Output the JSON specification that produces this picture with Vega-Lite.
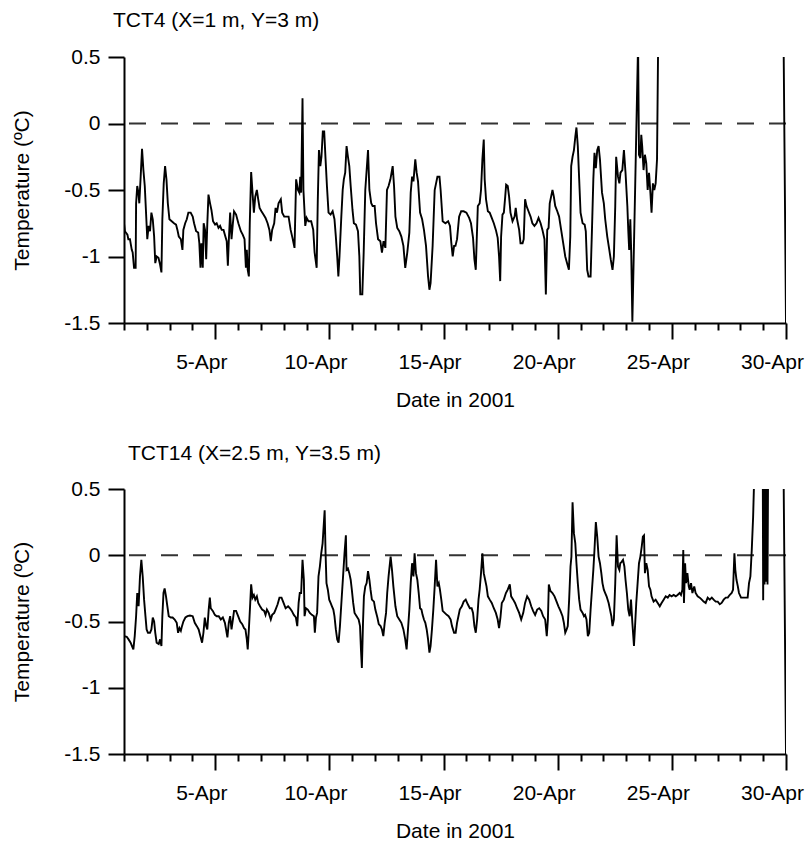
{
  "$schema": "https://vega.github.io/schema/vega-lite/v6.json",
  "background": "white",
  "padding": {"left": 11, "top": 10, "right": 5, "bottom": 0},
  "spacing": 33,
  "config": {
    "font": "Liberation Sans",
    "view": {"stroke": null},
    "axis": {
      "grid": false,
      "domainColor": "black",
      "domainWidth": 2,
      "tickColor": "black",
      "tickWidth": 2,
      "labelColor": "black",
      "titleColor": "black",
      "labelFont": "Liberation Sans",
      "titleFont": "Liberation Sans",
      "labelFontSize": 21,
      "titleFontSize": 21,
      "titleFontWeight": "normal"
    },
    "title": {"font": "Liberation Sans", "fontSize": 21, "fontWeight": "normal", "color": "black", "anchor": "start", "frame": "group", "baseline": "bottom"}
  },
  "datasets": {
    "tct4": [
      {"day":1.00,"temp":-0.75},{"day":1.04,"temp":-0.81},{"day":1.15,"temp":-0.835},{"day":1.19,"temp":-0.87},{"day":1.26,"temp":-0.87},{"day":1.34,"temp":-0.95},{"day":1.38,"temp":-0.97},{"day":1.44,"temp":-1.085},{"day":1.51,"temp":-1.085},{"day":1.53,"temp":-0.6},{"day":1.58,"temp":-0.47},{"day":1.63,"temp":-0.52},{"day":1.67,"temp":-0.6},{"day":1.73,"temp":-0.4},{"day":1.79,"temp":-0.19},{"day":1.85,"temp":-0.35},{"day":1.91,"temp":-0.47},{"day":1.96,"temp":-0.65},{"day":2.02,"temp":-0.87},{"day":2.08,"temp":-0.77},{"day":2.14,"temp":-0.81},{"day":2.20,"temp":-0.67},{"day":2.26,"temp":-0.72},{"day":2.32,"temp":-0.85},{"day":2.37,"temp":-1.05},{"day":2.43,"temp":-1.0},{"day":2.51,"temp":-1.01},{"day":2.58,"temp":-1.06},{"day":2.64,"temp":-1.12},{"day":2.68,"temp":-0.72},{"day":2.74,"temp":-0.45},{"day":2.80,"temp":-0.32},{"day":2.86,"temp":-0.42},{"day":2.92,"temp":-0.6},{"day":2.99,"temp":-0.72},{"day":3.09,"temp":-0.735},{"day":3.19,"temp":-0.75},{"day":3.28,"temp":-0.76},{"day":3.34,"temp":-0.8},{"day":3.40,"temp":-0.85},{"day":3.49,"temp":-0.87},{"day":3.56,"temp":-0.95},{"day":3.60,"temp":-0.8},{"day":3.68,"temp":-0.75},{"day":3.75,"temp":-0.72},{"day":3.82,"temp":-0.67},{"day":3.92,"temp":-0.67},{"day":4.01,"temp":-0.7},{"day":4.07,"temp":-0.75},{"day":4.16,"temp":-0.81},{"day":4.25,"temp":-0.82},{"day":4.30,"temp":-0.9},{"day":4.35,"temp":-1.085},{"day":4.39,"temp":-0.9},{"day":4.45,"temp":-1.085},{"day":4.49,"temp":-0.75},{"day":4.55,"temp":-0.8},{"day":4.60,"temp":-1.02},{"day":4.65,"temp":-0.75},{"day":4.70,"temp":-0.535},{"day":4.77,"temp":-0.6},{"day":4.83,"temp":-0.65},{"day":4.90,"temp":-0.735},{"day":4.99,"temp":-0.76},{"day":5.06,"temp":-0.75},{"day":5.14,"temp":-0.785},{"day":5.21,"temp":-0.77},{"day":5.28,"temp":-0.8},{"day":5.36,"temp":-0.8},{"day":5.44,"temp":-0.85},{"day":5.50,"temp":-0.885},{"day":5.55,"temp":-1.07},{"day":5.59,"temp":-0.885},{"day":5.65,"temp":-0.67},{"day":5.71,"temp":-0.87},{"day":5.77,"temp":-0.75},{"day":5.82,"temp":-0.66},{"day":5.91,"temp":-0.685},{"day":6.01,"temp":-0.75},{"day":6.12,"temp":-0.81},{"day":6.20,"temp":-0.835},{"day":6.28,"temp":-0.87},{"day":6.34,"temp":-1.085},{"day":6.38,"temp":-0.95},{"day":6.42,"temp":-1.1},{"day":6.47,"temp":-1.15},{"day":6.51,"temp":-0.75},{"day":6.57,"temp":-0.365},{"day":6.63,"temp":-0.52},{"day":6.69,"temp":-0.67},{"day":6.75,"temp":-0.55},{"day":6.82,"temp":-0.5},{"day":6.88,"temp":-0.57},{"day":6.94,"temp":-0.635},{"day":7.02,"temp":-0.66},{"day":7.11,"temp":-0.685},{"day":7.20,"temp":-0.71},{"day":7.29,"temp":-0.75},{"day":7.37,"temp":-0.8},{"day":7.43,"temp":-0.885},{"day":7.49,"temp":-0.8},{"day":7.58,"temp":-0.75},{"day":7.64,"temp":-0.635},{"day":7.70,"temp":-0.67},{"day":7.77,"temp":-0.6},{"day":7.87,"temp":-0.57},{"day":7.93,"temp":-0.67},{"day":8.02,"temp":-0.7},{"day":8.13,"temp":-0.7},
      {"day":8.21,"temp":-0.7},{"day":8.30,"temp":-0.8},{"day":8.38,"temp":-0.86},{"day":8.47,"temp":-0.935},{"day":8.54,"temp":-0.42},{"day":8.62,"temp":-0.5},{"day":8.68,"temp":-0.52},{"day":8.72,"temp":-0.4},{"day":8.76,"temp":-0.52},{"day":8.82,"temp":0.19},{"day":8.86,"temp":-0.5},{"day":8.94,"temp":-0.77},{"day":9.00,"temp":-0.71},{"day":9.08,"temp":-0.735},{"day":9.20,"temp":-0.735},{"day":9.29,"temp":-0.8},{"day":9.35,"temp":-0.97},{"day":9.44,"temp":-1.085},{"day":9.49,"temp":-0.57},{"day":9.54,"temp":-0.2},{"day":9.60,"temp":-0.32},{"day":9.65,"temp":-0.25},{"day":9.71,"temp":-0.06},{"day":9.77,"temp":-0.06},{"day":9.83,"temp":-0.27},{"day":9.89,"temp":-0.47},{"day":9.96,"temp":-0.67},{"day":10.05,"temp":-0.685},{"day":10.14,"temp":-0.66},{"day":10.22,"temp":-0.72},{"day":10.28,"temp":-0.85},{"day":10.34,"temp":-1.0},{"day":10.39,"temp":-1.15},{"day":10.44,"temp":-1.0},{"day":10.52,"temp":-0.7},{"day":10.58,"temp":-0.5},{"day":10.63,"temp":-0.42},{"day":10.69,"temp":-0.37},{"day":10.75,"temp":-0.17},{"day":10.81,"temp":-0.25},{"day":10.87,"temp":-0.32},{"day":10.93,"temp":-0.47},{"day":11.01,"temp":-0.65},{"day":11.07,"temp":-0.75},{"day":11.16,"temp":-0.76},{"day":11.25,"temp":-0.81},{"day":11.31,"temp":-1.0},{"day":11.35,"temp":-1.285},{"day":11.44,"temp":-1.285},{"day":11.50,"temp":-0.97},{"day":11.57,"temp":-0.5},{"day":11.69,"temp":-0.2},{"day":11.75,"temp":-0.5},{"day":11.83,"temp":-0.6},{"day":11.89,"temp":-0.62},{"day":11.98,"temp":-0.62},{"day":12.04,"temp":-0.75},{"day":12.13,"temp":-0.87},{"day":12.23,"temp":-0.885},{"day":12.30,"temp":-0.97},{"day":12.37,"temp":-0.885},{"day":12.45,"temp":-0.935},{"day":12.52,"temp":-0.5},{"day":12.59,"temp":-0.47},{"day":12.67,"temp":-0.42},{"day":12.77,"temp":-0.32},{"day":12.83,"temp":-0.47},{"day":12.89,"temp":-0.7},{"day":12.97,"temp":-0.785},{"day":13.06,"temp":-0.81},{"day":13.15,"temp":-0.85},{"day":13.24,"temp":-0.92},{"day":13.32,"temp":-1.085},{"day":13.41,"temp":-0.97},{"day":13.50,"temp":-0.82},{"day":13.56,"temp":-0.52},{"day":13.62,"temp":-0.4},{"day":13.68,"temp":-0.435},{"day":13.76,"temp":-0.27},{"day":13.82,"temp":-0.37},{"day":13.88,"temp":-0.435},{"day":13.97,"temp":-0.67},{"day":14.06,"temp":-0.72},{"day":14.14,"temp":-0.8},{"day":14.23,"temp":-0.92},{"day":14.32,"temp":-1.15},{"day":14.38,"temp":-1.25},{"day":14.43,"temp":-1.2},{"day":14.52,"temp":-0.92},{"day":14.61,"temp":-0.5},{"day":14.67,"temp":-0.45},{"day":14.73,"temp":-0.4},{"day":14.82,"temp":-0.4},{"day":14.87,"temp":-0.5},{"day":14.96,"temp":-0.735},{"day":15.08,"temp":-0.75},{"day":15.20,"temp":-0.735},{"day":15.28,"temp":-0.77},{"day":15.34,"temp":-0.9},{"day":15.40,"temp":-1.0},{"day":15.46,"temp":-0.92},
      {"day":15.52,"temp":-0.92},{"day":15.59,"temp":-0.87},{"day":15.68,"temp":-0.7},{"day":15.77,"temp":-0.66},{"day":15.88,"temp":-0.66},{"day":16.00,"temp":-0.67},{"day":16.12,"temp":-0.71},{"day":16.20,"temp":-0.75},{"day":16.29,"temp":-0.86},{"day":16.35,"temp":-1.02},{"day":16.41,"temp":-1.1},{"day":16.45,"temp":-0.885},{"day":16.50,"temp":-0.62},{"day":16.58,"temp":-0.6},{"day":16.64,"temp":-0.5},{"day":16.70,"temp":-0.27},{"day":16.76,"temp":-0.12},{"day":16.80,"temp":-0.42},{"day":16.86,"temp":-0.57},{"day":16.94,"temp":-0.66},{"day":17.02,"temp":-0.67},{"day":17.11,"temp":-0.71},{"day":17.20,"temp":-0.75},{"day":17.29,"temp":-0.8},{"day":17.37,"temp":-0.86},{"day":17.43,"temp":-1.0},{"day":17.48,"temp":-1.185},{"day":17.52,"temp":-0.85},{"day":17.58,"temp":-0.685},{"day":17.64,"temp":-0.67},{"day":17.70,"temp":-0.55},{"day":17.74,"temp":-0.46},{"day":17.81,"temp":-0.47},{"day":17.87,"temp":-0.55},{"day":17.93,"temp":-0.67},{"day":18.02,"temp":-0.735},{"day":18.11,"temp":-0.7},{"day":18.16,"temp":-0.635},{"day":18.22,"temp":-0.72},{"day":18.31,"temp":-0.8},{"day":18.37,"temp":-0.9},{"day":18.46,"temp":-0.9},{"day":18.51,"temp":-0.87},{"day":18.57,"temp":-0.57},{"day":18.63,"temp":-0.62},{"day":18.72,"temp":-0.66},{"day":18.81,"temp":-0.7},{"day":18.89,"temp":-0.75},{"day":18.98,"temp":-0.77},{"day":19.07,"temp":-0.75},{"day":19.16,"temp":-0.71},{"day":19.25,"temp":-0.75},{"day":19.33,"temp":-0.8},{"day":19.42,"temp":-0.87},{"day":19.48,"temp":-1.285},{"day":19.54,"temp":-0.8},{"day":19.60,"temp":-0.785},{"day":19.65,"temp":-0.6},{"day":19.71,"temp":-0.55},{"day":19.77,"temp":-0.5},{"day":19.83,"temp":-0.55},{"day":19.89,"temp":-0.62},{"day":19.98,"temp":-0.66},{"day":20.06,"temp":-0.7},{"day":20.15,"temp":-0.8},{"day":20.24,"temp":-0.9},{"day":20.33,"temp":-1.0},{"day":20.41,"temp":-1.05},{"day":20.49,"temp":-1.1},{"day":20.55,"temp":-0.85},{"day":20.59,"temp":-0.32},{"day":20.65,"temp":-0.25},{"day":20.71,"temp":-0.2},{"day":20.77,"temp":-0.1},{"day":20.82,"temp":-0.03},{"day":20.88,"temp":-0.17},{"day":20.94,"temp":-0.42},{"day":21.00,"temp":-0.67},{"day":21.09,"temp":-0.75},{"day":21.18,"temp":-0.76},{"day":21.23,"temp":-0.81},{"day":21.29,"temp":-1.1},{"day":21.35,"temp":-1.15},{"day":21.44,"temp":-1.15},{"day":21.50,"temp":-0.8},{"day":21.56,"temp":-0.42},{"day":21.61,"temp":-0.22},{"day":21.67,"temp":-0.335},{"day":21.73,"temp":-0.2},{"day":21.79,"temp":-0.17},{"day":21.85,"temp":-0.27},{"day":21.94,"temp":-0.52},{"day":22.02,"temp":-0.6},{"day":22.08,"temp":-0.72},{"day":22.17,"temp":-0.85},{"day":22.26,"temp":-0.95},{"day":22.32,"temp":-1.02},{"day":22.40,"temp":-1.1},{"day":22.46,"temp":-1.0},{"day":22.52,"temp":-0.62},{"day":22.56,"temp":-0.25},{"day":22.64,"temp":-0.4},{"day":22.70,"temp":-0.45},
      {"day":22.75,"temp":-0.37},{"day":22.83,"temp":-0.35},{"day":22.90,"temp":-0.2},{"day":22.97,"temp":-0.37},{"day":23.05,"temp":-0.62},{"day":23.09,"temp":-0.8},{"day":23.13,"temp":-0.95},{"day":23.18,"temp":-0.72},{"day":23.22,"temp":-0.97},{"day":23.27,"temp":-1.49},{"day":23.39,"temp":-0.5},{"day":23.47,"temp":0.18},{"day":23.52,"temp":0.6},{"day":23.56,"temp":-0.235},{"day":23.62,"temp":-0.26},{"day":23.66,"temp":-0.085},{"day":23.70,"temp":-0.17},{"day":23.76,"temp":-0.35},{"day":23.82,"temp":-0.235},{"day":23.88,"temp":-0.3},{"day":23.94,"temp":-0.5},{"day":24.00,"temp":-0.37},{"day":24.06,"temp":-0.52},{"day":24.11,"temp":-0.67},{"day":24.17,"temp":-0.45},{"day":24.23,"temp":-0.5},{"day":24.29,"temp":-0.45},{"day":24.35,"temp":-0.27},{"day":24.41,"temp":0.8},{"day":29.88,"temp":0.8},{"day":29.9,"temp":0.5},{"day":30.0,"temp":-1.5}
    ],
    "tct14": [
      {"day":1.00,"temp":-0.61},{"day":1.12,"temp":-0.615},{"day":1.20,"temp":-0.635},{"day":1.29,"temp":-0.66},{"day":1.35,"temp":-0.685},{"day":1.41,"temp":-0.71},{"day":1.47,"temp":-0.61},{"day":1.53,"temp":-0.46},{"day":1.58,"temp":-0.285},{"day":1.64,"temp":-0.385},{"day":1.70,"temp":-0.16},{"day":1.76,"temp":-0.035},{"day":1.82,"temp":-0.16},{"day":1.88,"temp":-0.335},{"day":1.94,"temp":-0.46},{"day":1.99,"temp":-0.56},{"day":2.05,"temp":-0.585},{"day":2.14,"temp":-0.585},{"day":2.20,"temp":-0.56},{"day":2.26,"temp":-0.47},{"day":2.32,"temp":-0.5},{"day":2.37,"temp":-0.585},{"day":2.43,"temp":-0.66},{"day":2.52,"temp":-0.67},{"day":2.58,"temp":-0.635},{"day":2.64,"temp":-0.685},{"day":2.68,"temp":-0.46},{"day":2.73,"temp":-0.285},{"day":2.78,"temp":-0.25},{"day":2.84,"temp":-0.31},{"day":2.90,"temp":-0.385},{"day":2.96,"temp":-0.46},{"day":3.05,"temp":-0.47},{"day":3.13,"temp":-0.47},{"day":3.22,"temp":-0.485},{"day":3.31,"temp":-0.51},{"day":3.37,"temp":-0.585},{"day":3.43,"temp":-0.55},{"day":3.49,"temp":-0.57},{"day":3.54,"temp":-0.535},{"day":3.60,"temp":-0.5},{"day":3.69,"temp":-0.47},{"day":3.78,"temp":-0.46},{"day":3.89,"temp":-0.455},{"day":4.01,"temp":-0.46},{"day":4.10,"temp":-0.51},{"day":4.19,"temp":-0.535},{"day":4.27,"temp":-0.56},{"day":4.33,"temp":-0.6},{"day":4.42,"temp":-0.66},{"day":4.48,"temp":-0.585},{"day":4.54,"temp":-0.47},{"day":4.60,"temp":-0.535},{"day":4.65,"temp":-0.56},{"day":4.71,"temp":-0.41},{"day":4.76,"temp":-0.32},{"day":4.80,"temp":-0.4},{"day":4.89,"temp":-0.42},{"day":4.98,"temp":-0.45},{"day":5.06,"temp":-0.46},{"day":5.15,"temp":-0.46},{"day":5.24,"temp":-0.485},{"day":5.33,"temp":-0.47},{"day":5.42,"temp":-0.51},{"day":5.47,"temp":-0.56},{"day":5.53,"temp":-0.62},{"day":5.59,"temp":-0.51},{"day":5.65,"temp":-0.46},{"day":5.71,"temp":-0.56},{"day":5.77,"temp":-0.485},{"day":5.82,"temp":-0.42},{"day":5.91,"temp":-0.42},{"day":6.00,"temp":-0.46},{"day":6.09,"temp":-0.5},{"day":6.18,"temp":-0.52},{"day":6.26,"temp":-0.55},{"day":6.32,"temp":-0.56},{"day":6.38,"temp":-0.635},{"day":6.42,"temp":-0.71},{"day":6.47,"temp":-0.56},{"day":6.53,"temp":-0.36},{"day":6.57,"temp":-0.22},{"day":6.63,"temp":-0.32},{"day":6.69,"temp":-0.3},{"day":6.75,"temp":-0.335},{"day":6.82,"temp":-0.31},{"day":6.88,"temp":-0.36},{"day":6.96,"temp":-0.385},{"day":7.05,"temp":-0.41},{"day":7.14,"temp":-0.42},{"day":7.20,"temp":-0.45},{"day":7.26,"temp":-0.41},{"day":7.34,"temp":-0.435},{"day":7.43,"temp":-0.485},{"day":7.49,"temp":-0.45},{"day":7.58,"temp":-0.435},{"day":7.64,"temp":-0.41},{"day":7.73,"temp":-0.37},{"day":7.81,"temp":-0.32},{"day":7.90,"temp":-0.32},{"day":7.99,"temp":-0.36},{"day":8.08,"temp":-0.4},{"day":8.19,"temp":-0.385},
      {"day":8.27,"temp":-0.4},{"day":8.35,"temp":-0.42},{"day":8.44,"temp":-0.45},{"day":8.53,"temp":-0.47},{"day":8.59,"temp":-0.535},{"day":8.65,"temp":-0.36},{"day":8.70,"temp":-0.285},{"day":8.76,"temp":-0.285},{"day":8.82,"temp":-0.035},{"day":8.88,"temp":-0.185},{"day":8.91,"temp":-0.46},{"day":8.97,"temp":-0.4},{"day":9.05,"temp":-0.41},{"day":9.14,"temp":-0.435},{"day":9.23,"temp":-0.45},{"day":9.32,"temp":-0.46},{"day":9.36,"temp":-0.585},{"day":9.41,"temp":-0.47},{"day":9.46,"temp":-0.435},{"day":9.52,"temp":-0.16},{"day":9.58,"temp":-0.085},{"day":9.64,"temp":0.015},{"day":9.70,"temp":0.09},{"day":9.79,"temp":0.34},{"day":9.83,"temp":0.015},{"day":9.87,"temp":-0.21},{"day":9.93,"temp":-0.26},{"day":9.99,"temp":-0.335},{"day":10.05,"temp":-0.36},{"day":10.11,"temp":-0.385},{"day":10.17,"temp":-0.41},{"day":10.22,"temp":-0.46},{"day":10.28,"temp":-0.56},{"day":10.34,"temp":-0.635},{"day":10.40,"temp":-0.66},{"day":10.46,"temp":-0.535},{"day":10.55,"temp":-0.285},{"day":10.60,"temp":-0.15},{"day":10.66,"temp":0.015},{"day":10.72,"temp":0.15},{"day":10.75,"temp":-0.11},{"day":10.81,"temp":-0.1},{"day":10.87,"temp":-0.135},{"day":10.93,"temp":-0.185},{"day":10.98,"temp":-0.26},{"day":11.04,"temp":-0.36},{"day":11.10,"temp":-0.435},{"day":11.19,"temp":-0.46},{"day":11.28,"temp":-0.485},{"day":11.34,"temp":-0.535},{"day":11.38,"temp":-0.71},{"day":11.42,"temp":-0.85},{"day":11.47,"temp":-0.51},{"day":11.51,"temp":-0.31},{"day":11.57,"temp":-0.235},{"day":11.63,"temp":-0.21},{"day":11.69,"temp":-0.12},{"day":11.75,"temp":-0.185},{"day":11.80,"temp":-0.26},{"day":11.86,"temp":-0.335},{"day":11.95,"temp":-0.35},{"day":12.01,"temp":-0.41},{"day":12.10,"temp":-0.47},{"day":12.16,"temp":-0.52},{"day":12.24,"temp":-0.535},{"day":12.30,"temp":-0.56},{"day":12.36,"temp":-0.61},{"day":12.42,"temp":-0.51},{"day":12.48,"temp":-0.435},{"day":12.53,"temp":-0.285},{"day":12.59,"temp":-0.16},{"day":12.68,"temp":-0.01},{"day":12.74,"temp":-0.11},{"day":12.80,"temp":-0.235},{"day":12.89,"temp":-0.385},{"day":12.97,"temp":-0.46},{"day":13.06,"temp":-0.485},{"day":13.15,"temp":-0.51},{"day":13.24,"temp":-0.56},{"day":13.32,"temp":-0.635},{"day":13.38,"temp":-0.71},{"day":13.44,"temp":-0.56},{"day":13.50,"temp":-0.41},{"day":13.56,"temp":-0.21},{"day":13.62,"temp":-0.06},{"day":13.68,"temp":-0.16},{"day":13.73,"temp":0.015},{"day":13.79,"temp":-0.135},{"day":13.85,"temp":-0.185},{"day":13.91,"temp":-0.285},{"day":13.97,"temp":-0.4},{"day":14.03,"temp":-0.41},{"day":14.08,"temp":-0.45},{"day":14.14,"temp":-0.485},{"day":14.20,"temp":-0.51},{"day":14.26,"temp":-0.56},{"day":14.32,"temp":-0.635},{"day":14.38,"temp":-0.735},{"day":14.43,"temp":-0.685},{"day":14.49,"temp":-0.56},{"day":14.55,"temp":-0.41},{"day":14.61,"temp":-0.235},{"day":14.67,"temp":-0.035},{"day":14.73,"temp":-0.235},{"day":14.79,"temp":-0.21},{"day":14.84,"temp":-0.26},{"day":14.90,"temp":-0.335},{"day":14.96,"temp":-0.42},{"day":15.05,"temp":-0.435},{"day":15.14,"temp":-0.45},{"day":15.22,"temp":-0.46},{"day":15.31,"temp":-0.485},{"day":15.37,"temp":-0.535},{"day":15.46,"temp":-0.585},
      {"day":15.53,"temp":-0.585},{"day":15.59,"temp":-0.51},{"day":15.65,"temp":-0.46},{"day":15.71,"temp":-0.41},{"day":15.80,"temp":-0.385},{"day":15.88,"temp":-0.35},{"day":15.97,"temp":-0.335},{"day":16.06,"temp":-0.37},{"day":16.15,"temp":-0.4},{"day":16.23,"temp":-0.4},{"day":16.29,"temp":-0.435},{"day":16.35,"temp":-0.535},{"day":16.41,"temp":-0.585},{"day":16.47,"temp":-0.485},{"day":16.53,"temp":-0.335},{"day":16.58,"temp":-0.26},{"day":16.64,"temp":-0.135},{"day":16.70,"temp":0.015},{"day":16.76,"temp":-0.135},{"day":16.82,"temp":-0.185},{"day":16.88,"temp":-0.235},{"day":16.94,"temp":-0.31},{"day":17.02,"temp":-0.335},{"day":17.11,"temp":-0.36},{"day":17.20,"temp":-0.4},{"day":17.29,"temp":-0.435},{"day":17.37,"temp":-0.485},{"day":17.43,"temp":-0.55},{"day":17.49,"temp":-0.47},{"day":17.55,"temp":-0.36},{"day":17.64,"temp":-0.335},{"day":17.73,"temp":-0.285},{"day":17.81,"temp":-0.26},{"day":17.90,"temp":-0.22},{"day":17.96,"temp":-0.31},{"day":18.05,"temp":-0.335},{"day":18.13,"temp":-0.36},{"day":18.22,"temp":-0.4},{"day":18.31,"temp":-0.435},{"day":18.40,"temp":-0.485},{"day":18.49,"temp":-0.435},{"day":18.57,"temp":-0.36},{"day":18.66,"temp":-0.31},{"day":18.75,"temp":-0.335},{"day":18.84,"temp":-0.385},{"day":18.92,"temp":-0.42},{"day":19.01,"temp":-0.45},{"day":19.10,"temp":-0.41},{"day":19.19,"temp":-0.4},{"day":19.28,"temp":-0.42},{"day":19.36,"temp":-0.46},{"day":19.45,"temp":-0.485},{"day":19.52,"temp":-0.61},{"day":19.57,"temp":-0.485},{"day":19.61,"temp":-0.22},{"day":19.68,"temp":-0.27},{"day":19.77,"temp":-0.285},{"day":19.86,"temp":-0.31},{"day":19.95,"temp":-0.35},{"day":20.03,"temp":-0.385},{"day":20.12,"temp":-0.42},{"day":20.21,"temp":-0.46},{"day":20.27,"temp":-0.51},{"day":20.33,"temp":-0.585},{"day":20.39,"temp":-0.56},{"day":20.44,"temp":-0.535},{"day":20.50,"temp":-0.335},{"day":20.56,"temp":-0.085},{"day":20.60,"temp":-0.01},{"day":20.65,"temp":0.4},{"day":20.71,"temp":0.165},{"day":20.77,"temp":0.09},{"day":20.82,"temp":-0.06},{"day":20.88,"temp":-0.21},{"day":20.94,"temp":-0.335},{"day":21.00,"temp":-0.41},{"day":21.09,"temp":-0.435},{"day":21.15,"temp":-0.46},{"day":21.20,"temp":-0.45},{"day":21.26,"temp":-0.485},{"day":21.32,"temp":-0.61},{"day":21.38,"temp":-0.585},{"day":21.44,"temp":-0.41},{"day":21.50,"temp":-0.26},{"day":21.56,"temp":-0.11},{"day":21.61,"temp":0.04},{"day":21.67,"temp":0.25},{"day":21.73,"temp":0.14},{"day":21.79,"temp":-0.01},{"day":21.85,"temp":-0.06},{"day":21.91,"temp":-0.135},{"day":21.96,"temp":-0.21},{"day":22.02,"temp":-0.26},{"day":22.08,"temp":-0.285},{"day":22.14,"temp":-0.31},{"day":22.23,"temp":-0.36},{"day":22.29,"temp":-0.41},{"day":22.35,"temp":-0.46},{"day":22.40,"temp":-0.535},{"day":22.46,"temp":-0.485},{"day":22.52,"temp":-0.21},{"day":22.58,"temp":0.15},{"day":22.64,"temp":-0.085},{"day":22.70,"temp":-0.11},
      {"day":22.74,"temp":-0.06},{"day":22.80,"temp":-0.05},{"day":22.86,"temp":-0.035},{"day":22.92,"temp":-0.085},{"day":22.97,"temp":-0.185},{"day":23.03,"temp":-0.285},{"day":23.09,"temp":-0.41},{"day":23.15,"temp":-0.46},{"day":23.21,"temp":-0.335},{"day":23.27,"temp":-0.51},{"day":23.34,"temp":-0.685},{"day":23.38,"temp":-0.56},{"day":23.44,"temp":-0.36},{"day":23.50,"temp":-0.21},{"day":23.56,"temp":-0.06},{"day":23.62,"temp":-0.01},{"day":23.68,"temp":0.065},{"day":23.73,"temp":0.14},{"day":23.78,"temp":0.15},{"day":23.82,"temp":-0.135},{"day":23.88,"temp":-0.06},{"day":23.94,"temp":-0.11},{"day":24.00,"temp":-0.235},{"day":24.06,"temp":-0.26},{"day":24.11,"temp":-0.31},{"day":24.20,"temp":-0.35},{"day":24.29,"temp":-0.335},{"day":24.38,"temp":-0.36},{"day":24.47,"temp":-0.385},{"day":24.55,"temp":-0.36},{"day":24.64,"temp":-0.335},{"day":24.73,"temp":-0.31},{"day":24.82,"temp":-0.32},{"day":24.90,"temp":-0.3},{"day":24.99,"temp":-0.31},{"day":25.08,"temp":-0.3},{"day":25.17,"temp":-0.31},{"day":25.25,"temp":-0.3},{"day":25.34,"temp":-0.285},{"day":25.40,"temp":-0.3},{"day":25.46,"temp":-0.26},{"day":25.50,"temp":0.04},{"day":25.53,"temp":-0.36},{"day":25.58,"temp":-0.06},{"day":25.62,"temp":-0.21},{"day":25.68,"temp":-0.135},{"day":25.74,"temp":-0.235},{"day":25.78,"temp":-0.26},{"day":25.84,"temp":-0.21},{"day":25.90,"temp":-0.285},{"day":25.98,"temp":-0.235},{"day":26.04,"temp":-0.285},{"day":26.13,"temp":-0.31},{"day":26.22,"temp":-0.32},{"day":26.31,"temp":-0.335},{"day":26.39,"temp":-0.35},{"day":26.48,"temp":-0.36},{"day":26.57,"temp":-0.32},{"day":26.66,"temp":-0.335},{"day":26.75,"temp":-0.32},{"day":26.83,"temp":-0.335},{"day":26.92,"temp":-0.35},{"day":27.01,"temp":-0.35},{"day":27.10,"temp":-0.37},{"day":27.18,"temp":-0.36},{"day":27.27,"temp":-0.335},{"day":27.36,"temp":-0.32},{"day":27.45,"temp":-0.32},{"day":27.53,"temp":-0.3},{"day":27.62,"temp":-0.285},{"day":27.68,"temp":-0.26},{"day":27.74,"temp":0.015},{"day":27.78,"temp":-0.11},{"day":27.83,"temp":-0.185},{"day":27.89,"temp":-0.235},{"day":27.94,"temp":-0.285},{"day":28.03,"temp":-0.32},{"day":28.12,"temp":-0.32},{"day":28.24,"temp":-0.32},{"day":28.32,"temp":-0.32},{"day":28.38,"temp":-0.21},{"day":28.44,"temp":-0.16},{"day":28.50,"temp":0.04},{"day":28.56,"temp":0.29},{"day":28.64,"temp":0.8},{"day":28.98,"temp":0.8},{"day":29.0,"temp":-0.34},{"day":29.03,"temp":0.8},{"day":29.06,"temp":-0.22},{"day":29.09,"temp":0.8},{"day":29.12,"temp":-0.2},{"day":29.15,"temp":0.8},{"day":29.19,"temp":-0.22},{"day":29.22,"temp":0.8},{"day":29.88,"temp":0.8},{"day":29.9,"temp":0.5},{"day":30.0,"temp":-1.5}
    ]
  },
  "vconcat": [
    {
      "width": 662,
      "height": 266,
      "title": {"text": "TCT4 (X=1 m, Y=3 m)", "dx": -11, "offset": 15},
      "encoding": {
        "y": {"field": "temp", "type": "quantitative",
          "scale": {"domain": [-1.5, 0.5], "nice": false, "zero": false},
          "axis": {"title": "Temperature (ºC)", "values": [-1.5, -1, -0.5, 0, 0.5], "labelExpr": "'' + datum.value", "tickSize": 16, "labelPadding": 8, "titlePadding": 31}}
      },
      "layer": [
        {
          "data": {"values": [{"temp": 0}]},
          "mark": {"type": "rule", "color": "#333333", "strokeWidth": 2, "strokeDash": [17, 15]}
        },
        {
          "data": {"name": "tct4"},
          "mark": {"type": "line", "color": "black", "strokeWidth": 1.9, "clip": true},
          "encoding": {
            "x": {"field": "day", "type": "quantitative",
              "scale": {"domain": [1, 30], "nice": false, "zero": false},
              "axis": {"title": "Date in 2001", "values": [1,2,3,4,5,6,7,8,9,10,11,12,13,14,15,16,17,18,19,20,21,22,23,24,25,26,27,28,29,30],
                "tickSize": {"condition": {"test": "datum.value % 5 === 0", "value": 16}, "value": 7},
                "labelExpr": "datum.value % 5 === 0 ? datum.value + '-Apr' : ''",
                "labelOverlap": false, "labelFlush": false, "labelPadding": 12, "labelOffset": -14, "titlePadding": 17}}
          }
        }
      ]
    },
    {
      "width": 662,
      "height": 265,
      "title": {"text": "TCT14 (X=2.5 m, Y=3.5 m)", "dx": 4, "offset": 14},
      "encoding": {
        "y": {"field": "temp", "type": "quantitative",
          "scale": {"domain": [-1.5, 0.5], "nice": false, "zero": false},
          "axis": {"title": "Temperature (ºC)", "values": [-1.5, -1, -0.5, 0, 0.5], "labelExpr": "'' + datum.value", "tickSize": 16, "labelPadding": 8, "titlePadding": 31}}
      },
      "layer": [
        {
          "data": {"values": [{"temp": 0}]},
          "mark": {"type": "rule", "color": "#333333", "strokeWidth": 2, "strokeDash": [17, 15]}
        },
        {
          "data": {"name": "tct14"},
          "mark": {"type": "line", "color": "black", "strokeWidth": 1.9, "clip": true},
          "encoding": {
            "x": {"field": "day", "type": "quantitative",
              "scale": {"domain": [1, 30], "nice": false, "zero": false},
              "axis": {"title": "Date in 2001", "values": [1,2,3,4,5,6,7,8,9,10,11,12,13,14,15,16,17,18,19,20,21,22,23,24,25,26,27,28,29,30],
                "tickSize": {"condition": {"test": "datum.value % 5 === 0", "value": 16}, "value": 7},
                "labelExpr": "datum.value % 5 === 0 ? datum.value + '-Apr' : ''",
                "labelOverlap": false, "labelFlush": false, "labelPadding": 12, "labelOffset": -14, "titlePadding": 17}}
          }
        }
      ]
    }
  ]
}
